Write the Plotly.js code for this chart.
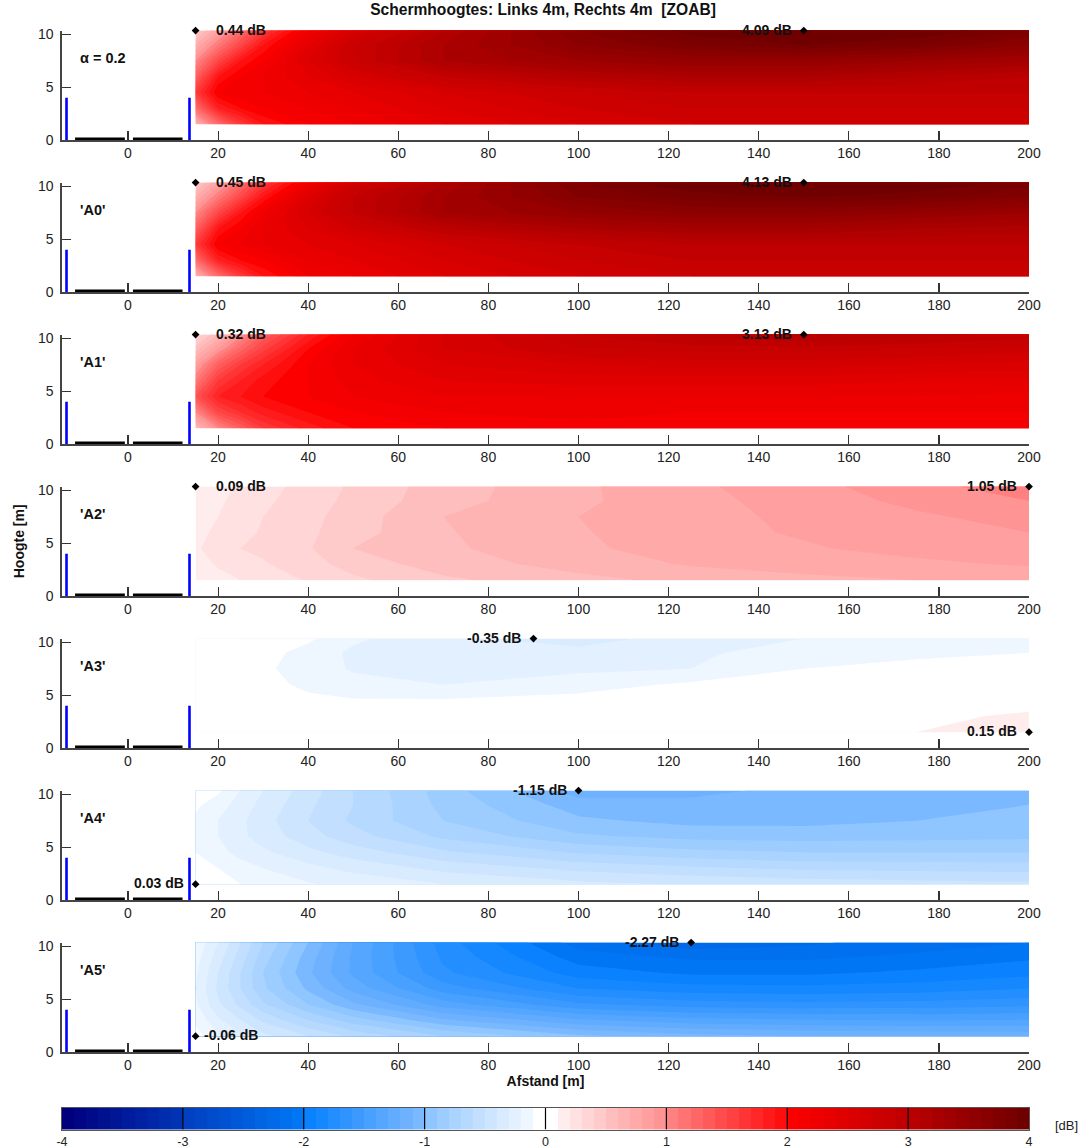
<!DOCTYPE html>
<html><head><meta charset="utf-8">
<script src="https://cdn.plot.ly/plotly-3.0.1.min.js"></script>
<style>html,body{margin:0;padding:0;background:#fff}#chart{width:1081px;height:1148px}</style>
</head><body><div id="chart"></div>
<script>
// ---------- DATA ----------
const xGrid = [15, 20, 25, 30, 40, 50, 70, 100, 125, 150, 175, 200];
const yGrid = [1.5, 3, 4.5, 6, 7.5, 9, 10.35];

// rows bottom -> top (y = 1.5 ... 10.35), columns follow xGrid
const zAlpha = [
  [0.70, 1.20, 1.60, 1.90, 2.10, 2.20, 2.40, 2.60, 2.70, 2.70, 2.70, 2.70],
  [1.20, 1.80, 2.00, 2.10, 2.20, 2.30, 2.50, 2.70, 2.80, 2.80, 2.80, 2.80],
  [1.60, 2.10, 2.20, 2.20, 2.30, 2.40, 2.60, 2.80, 2.90, 2.90, 2.90, 2.90],
  [1.30, 1.90, 2.10, 2.20, 2.40, 2.60, 2.90, 3.10, 3.20, 3.20, 3.10, 3.00],
  [1.00, 1.50, 1.90, 2.10, 2.50, 2.80, 3.20, 3.40, 3.50, 3.50, 3.40, 3.30],
  [0.70, 1.10, 1.50, 1.90, 2.40, 2.80, 3.20, 3.60, 3.80, 3.90, 3.80, 3.60],
  [0.44, 0.80, 1.20, 1.60, 2.20, 2.60, 3.10, 3.70, 3.95, 4.09, 4.00, 3.80]
];
const zA0 = [
  [0.70, 1.20, 1.60, 1.90, 2.20, 2.30, 2.50, 2.70, 2.80, 2.80, 2.80, 2.85],
  [1.20, 1.80, 2.00, 2.10, 2.30, 2.40, 2.60, 2.80, 2.90, 2.90, 2.90, 2.90],
  [1.60, 2.10, 2.20, 2.30, 2.40, 2.50, 2.70, 2.90, 3.00, 3.00, 3.00, 3.00],
  [1.30, 1.90, 2.10, 2.30, 2.50, 2.70, 3.00, 3.20, 3.30, 3.30, 3.20, 3.15],
  [1.00, 1.50, 1.90, 2.20, 2.60, 2.90, 3.30, 3.50, 3.60, 3.60, 3.50, 3.40],
  [0.70, 1.10, 1.50, 1.90, 2.50, 2.90, 3.30, 3.70, 3.85, 3.90, 3.85, 3.70],
  [0.45, 0.80, 1.20, 1.60, 2.20, 2.70, 3.20, 3.80, 4.00, 4.13, 4.00, 3.85]
];
const zA1 = [
  [0.60, 1.00, 1.30, 1.60, 1.85, 2.00, 2.10, 2.15, 2.15, 2.15, 2.15, 2.10],
  [1.00, 1.50, 1.70, 1.85, 2.00, 2.10, 2.20, 2.25, 2.20, 2.20, 2.20, 2.20],
  [1.40, 1.80, 1.90, 2.00, 2.10, 2.20, 2.30, 2.30, 2.30, 2.30, 2.30, 2.25],
  [1.10, 1.60, 1.80, 1.95, 2.10, 2.25, 2.40, 2.45, 2.45, 2.45, 2.40, 2.40],
  [0.85, 1.30, 1.60, 1.80, 2.10, 2.30, 2.50, 2.60, 2.65, 2.65, 2.60, 2.55],
  [0.55, 0.90, 1.25, 1.55, 2.00, 2.30, 2.60, 2.80, 2.85, 2.85, 2.80, 2.75],
  [0.32, 0.60, 0.95, 1.30, 1.80, 2.20, 2.60, 2.90, 3.05, 3.13, 3.05, 2.95]
];
const zA2 = [
  [0.13, 0.17, 0.20, 0.24, 0.31, 0.38, 0.48, 0.57, 0.63, 0.67, 0.70, 0.72],
  [0.16, 0.21, 0.25, 0.29, 0.36, 0.44, 0.55, 0.64, 0.71, 0.75, 0.78, 0.81],
  [0.18, 0.26, 0.30, 0.32, 0.39, 0.50, 0.58, 0.68, 0.75, 0.79, 0.83, 0.86],
  [0.17, 0.22, 0.27, 0.31, 0.38, 0.46, 0.59, 0.69, 0.77, 0.81, 0.86, 0.90],
  [0.15, 0.20, 0.25, 0.30, 0.37, 0.45, 0.60, 0.70, 0.77, 0.82, 0.88, 0.95],
  [0.12, 0.18, 0.24, 0.28, 0.35, 0.43, 0.56, 0.68, 0.77, 0.84, 0.93, 1.00],
  [0.09, 0.15, 0.22, 0.27, 0.33, 0.42, 0.55, 0.68, 0.78, 0.86, 0.97, 1.05]
];
const zA3 = [
  [0.04, 0.03, 0.02, 0.00, -0.01, -0.01, 0.00, 0.02, 0.05, 0.08, 0.10, 0.15],
  [0.03, 0.02, 0.00, -0.02, -0.04, -0.04, -0.03, -0.01, 0.02, 0.04, 0.07, 0.12],
  [0.02, 0.00, -0.02, -0.05, -0.08, -0.09, -0.09, -0.06, -0.03, 0.00, 0.02, 0.05],
  [0.02, -0.01, -0.03, -0.07, -0.12, -0.17, -0.20, -0.15, -0.08, -0.05, -0.02, 0.00],
  [0.02, -0.01, -0.04, -0.08, -0.15, -0.21, -0.24, -0.22, -0.20, -0.10, -0.07, -0.05],
  [0.03, 0.00, -0.02, -0.06, -0.14, -0.22, -0.26, -0.27, -0.22, -0.15, -0.12, -0.10],
  [0.05, 0.03, 0.00, -0.03, -0.08, -0.18, -0.28, -0.34, -0.26, -0.20, -0.17, -0.15]
];
const zA4 = [
  [0.03, -0.05, -0.10, -0.14, -0.19, -0.23, -0.30, -0.37, -0.41, -0.44, -0.46, -0.47],
  [-0.03, -0.10, -0.16, -0.20, -0.27, -0.33, -0.43, -0.53, -0.58, -0.62, -0.63, -0.64],
  [-0.10, -0.17, -0.23, -0.28, -0.37, -0.45, -0.58, -0.71, -0.77, -0.80, -0.80, -0.80],
  [-0.13, -0.20, -0.28, -0.34, -0.46, -0.56, -0.72, -0.88, -0.93, -0.94, -0.93, -0.92],
  [-0.12, -0.20, -0.28, -0.36, -0.50, -0.62, -0.80, -0.98, -1.03, -1.03, -1.00, -0.98],
  [-0.08, -0.15, -0.25, -0.33, -0.48, -0.60, -0.83, -1.05, -1.08, -1.06, -1.03, -1.00],
  [-0.02, -0.08, -0.20, -0.30, -0.45, -0.60, -0.85, -1.15, -1.12, -1.08, -1.05, -1.00]
];
const zA5 = [
  [-0.06, -0.18, -0.28, -0.37, -0.50, -0.62, -0.80, -0.98, -1.06, -1.10, -1.12, -1.13],
  [-0.12, -0.28, -0.40, -0.52, -0.70, -0.85, -1.08, -1.28, -1.36, -1.39, -1.40, -1.39],
  [-0.18, -0.38, -0.53, -0.68, -0.90, -1.08, -1.35, -1.58, -1.65, -1.67, -1.66, -1.63],
  [-0.20, -0.42, -0.60, -0.78, -1.02, -1.24, -1.55, -1.80, -1.86, -1.87, -1.85, -1.80],
  [-0.18, -0.40, -0.60, -0.80, -1.08, -1.32, -1.68, -1.95, -2.02, -2.02, -1.98, -1.93],
  [-0.15, -0.35, -0.55, -0.75, -1.05, -1.32, -1.72, -2.05, -2.12, -2.12, -2.08, -2.02],
  [-0.12, -0.30, -0.50, -0.70, -1.00, -1.30, -1.75, -2.15, -2.27, -2.22, -2.15, -2.10]
];
const panelZ = [zAlpha, zA0, zA1, zA2, zA3, zA4, zA5];
const panelNames = ['\u03b1 = 0.2', "'A0'", "'A1'", "'A2'", "'A3'", "'A4'", "'A5'"];

// extreme-value labels
const labelPanel = [0, 0, 1, 1, 2, 2, 3, 3, 4, 4, 5, 5, 6, 6];
const labelX = [15, 150, 15, 150, 15, 150, 15, 200, 90, 200, 100, 15, 125, 15];
const labelY = [10.35, 10.35, 10.35, 10.35, 10.35, 10.35, 10.35, 10.35, 10.35, 1.5, 10.35, 1.5, 10.35, 1.5];
const labelVal = [0.44, 4.09, 0.45, 4.13, 0.32, 3.13, 0.09, 1.05, -0.35, 0.15, -1.15, 0.03, -2.27, -0.06];
const labelSide = ['right', 'left', 'right', 'left', 'right', 'left', 'right', 'left', 'left', 'left', 'left', 'left', 'left', 'right'];

// geometry of the cross-section (screens and road lanes)
const screenX = [-13.65, 13.65];
const screenH = 4;
const laneStart = [-11.75, 1.1];
const laneEnd = [-0.7, 12.1];
const laneY = 0.12;

// colour scale anchors (band mid-value in dB -> rgb)
const cAnchorV = [-3.95, -3.05, -2.95, -2.05, -1.95, -1.05, -0.95, -0.55, -0.15, -0.05,
                  0.05, 0.15, 0.55, 0.95, 1.05, 1.95, 2.05, 2.95, 3.05, 3.95];
const cAnchorRGB = [
  [0, 0, 125], [0, 50, 180], [0, 64, 193], [0, 118, 244], [10, 130, 255], [122, 184, 255],
  [144, 198, 255], [195, 223, 255], [238, 246, 255], [255, 255, 255],
  [255, 255, 255], [255, 236, 236], [255, 190, 190], [255, 148, 148], [255, 128, 128], [255, 14, 14],
  [252, 0, 0], [192, 0, 0], [184, 0, 0], [112, 0, 0]
];
const cbTicks = [-4, -3, -2, -1, 0, 1, 2, 3, 4];
const xTicks = [0, 20, 40, 60, 80, 100, 120, 140, 160, 180, 200];
const yTicks = [0, 5, 10];

// ---------- BUILD ----------
const W = 1081, H = 1148;
const FONT = 'Liberation Sans, Arial, sans-serif';
function colorAt(v) {
  let i = 0;
  while (i < cAnchorV.length - 2 && v > cAnchorV[i + 1]) i++;
  const t = Math.max(0, Math.min(1, (v - cAnchorV[i]) / (cAnchorV[i + 1] - cAnchorV[i])));
  const a = cAnchorRGB[i], b = cAnchorRGB[i + 1];
  return 'rgb(' + a.map((c, k) => Math.round(c + (b[k] - c) * t)).join(',') + ')';
}
const NB = 80;
const bandMids = [];
for (let i = 0; i < NB; i++) bandMids.push(Math.round((-3.95 + 0.1 * i) * 100) / 100);
const bandColors = bandMids.map(colorAt);
// step colour scale: band i occupies s in [(i+0.5)/80, (i+1.5)/80]; background below is white
function stepScale(colors) {
  const eps = 1e-7;
  const cs = [[0, 'rgb(255,255,255)'], [0.5 / NB - eps, 'rgb(255,255,255)']];
  for (let i = 0; i < NB; i++) {
    cs.push([(i + 0.5) / NB, colors[i]]);
    cs.push([i === NB - 1 ? 1 : (i + 1.5) / NB - eps, colors[i]]);
  }
  return cs;
}
const cscale = stepScale(bandColors);

const xDom = [62 / W, 1029 / W];
const xRange = [-14.65, 200];
const yRange = [0, 10.35];
const traces = [];
const layout = {
  width: W, height: H, margin: {l: 0, r: 0, t: 0, b: 0},
  paper_bgcolor: '#fff', plot_bgcolor: 'rgba(0,0,0,0)',
  showlegend: false,
  font: {family: FONT, size: 14, color: '#222'},
  title: {text: '<b>Schermhoogtes: Links 4m, Rechts 4m\u00a0 [ZOAB]</b>', x: 543 / W, xanchor: 'center',
          y: 1 - 10 / H, yanchor: 'middle', font: {family: FONT, size: 15.6, color: '#111'}},
  annotations: [], shapes: []
};

for (let p = 0; p < 7; p++) {
  const n = p + 1;
  const xa = 'x' + n, ya = 'y' + n;
  const bottom = 140 + 152 * p, top = bottom - 109.4;
  // bands lying wholly below this panel's minimum are never visible: keep them white
  const zmin = Math.min(...panelZ[p].flat());
  const floorLevel = Math.floor(zmin * 10 + 1e-9) / 10;
  const pColors = bandColors.map((c, i) => bandMids[i] < floorLevel ? 'rgb(255,255,255)' : c);
  traces.push({
    type: 'contour', x: xGrid, y: yGrid, z: panelZ[p], xaxis: xa, yaxis: ya,
    zmin: -4, zmax: 4, autocontour: false,
    contours: {start: -4, end: 4, size: 0.1, coloring: 'fill', showlines: false},
    line: {width: 0, smoothing: 0}, colorscale: stepScale(pColors), showscale: false, hoverinfo: 'skip'
  });
  traces.push({
    type: 'scatter', mode: 'lines', xaxis: xa, yaxis: ya, cliponaxis: false, hoverinfo: 'skip',
    x: [screenX[0], screenX[0], null, screenX[1], screenX[1]],
    y: [0, screenH, null, 0, screenH],
    line: {color: '#0000ff', width: 2.6}
  });
  traces.push({
    type: 'scatter', mode: 'lines', xaxis: xa, yaxis: ya, cliponaxis: false, hoverinfo: 'skip',
    x: [laneStart[0], laneEnd[0], null, laneStart[1], laneEnd[1]],
    y: [laneY, laneY, null, laneY, laneY],
    line: {color: '#000', width: 2.4}
  });
  const axCommon = {
    showgrid: false, zeroline: false, showline: true, linecolor: '#444', linewidth: 1.6,
    ticks: 'inside', ticklen: 9, tickwidth: 1.2, tickcolor: '#333',
    tickfont: {family: FONT, size: 14, color: '#222'}, fixedrange: true
  };
  layout['xaxis' + (n === 1 ? '' : n)] = Object.assign({}, axCommon, {
    domain: xDom, range: xRange, anchor: ya, tickvals: xTicks, ticklabelstandoff: 0
  });
  layout['yaxis' + (n === 1 ? '' : n)] = Object.assign({}, axCommon, {
    domain: [1 - bottom / H, 1 - top / H], range: yRange, anchor: xa, tickvals: yTicks, ticklabelstandoff: 4
  });
  layout.annotations.push({
    xref: xa, yref: ya, x: -11.2, y: 7.8, xanchor: 'left', yanchor: 'middle', showarrow: false,
    text: '<b>' + panelNames[p] + '</b>', font: {family: FONT, size: 14.5, color: '#111'}
  });
}
layout.xaxis7.title = {text: '<b>Afstand [m]</b>', standoff: 3, font: {family: FONT, size: 14, color: '#111'}};
layout.yaxis4.title = {text: '<b>Hoogte [m]</b>', standoff: 10, font: {family: FONT, size: 14, color: '#111'}};

for (let p = 0; p < 7; p++) {
  const idx = labelPanel.map((q, i) => q === p ? i : -1).filter(i => i >= 0);
  traces.push({
    type: 'scatter', mode: 'markers', xaxis: 'x' + (p + 1), yaxis: 'y' + (p + 1), cliponaxis: false,
    hoverinfo: 'skip', x: idx.map(i => labelX[i]), y: idx.map(i => labelY[i]),
    marker: {symbol: 'diamond', size: 6, color: '#000'}
  });
  idx.forEach(i => {
    const v = labelVal[i];
    const right = labelSide[i] === 'right';
    layout.annotations.push({
      xref: 'x' + (p + 1), yref: 'y' + (p + 1), x: labelX[i], y: labelY[i],
      xanchor: right ? 'left' : 'right', yanchor: 'middle', showarrow: false,
      xshift: right ? (v >= 0 ? 18 : 6) : -10, yshift: 1,
      text: '<b>' + v.toFixed(2) + ' dB</b>', font: {family: FONT, size: 14, color: '#111'}
    });
  });
}

// colour bar as its own subplot
traces.push({
  type: 'heatmap', xaxis: 'x8', yaxis: 'y8', x: bandMids, y: [0.5], z: [bandMids],
  zmin: -4.05, zmax: 3.95, colorscale: cscale, showscale: false, hoverinfo: 'skip'
});
const sepX = [], sepY = [];
cbTicks.slice(1, -1).forEach(t => { sepX.push(t, t, null); sepY.push(0, 1, null); });
traces.push({
  type: 'scatter', mode: 'lines', xaxis: 'x8', yaxis: 'y8', x: sepX, y: sepY,
  line: {color: '#000', width: 1.2}, hoverinfo: 'skip'
});
layout.xaxis8 = {
  domain: xDom, range: [-4, 4], anchor: 'y8', showgrid: false, zeroline: false,
  showline: true, mirror: true, linecolor: '#555', linewidth: 1.2, ticks: '',
  tickvals: cbTicks, ticktext: cbTicks.map(String), ticklabelstandoff: 0,
  tickfont: {family: FONT, size: 12.5, color: '#222'}, fixedrange: true
};
layout.yaxis8 = {
  domain: [1 - 1129.5 / H, 1 - 1108 / H], range: [0, 1], anchor: 'x8', showgrid: false,
  zeroline: false, showline: true, mirror: true, linecolor: '#555', linewidth: 1.2,
  showticklabels: false, ticks: '', fixedrange: true
};
layout.annotations.push({
  xref: 'paper', yref: 'paper', x: 1066 / W, y: 1 - 1125 / H, xanchor: 'center', yanchor: 'middle',
  showarrow: false, text: '[dB]', font: {family: FONT, size: 13, color: '#222'}
});

Plotly.newPlot('chart', traces, layout, {staticPlot: true, displayModeBar: false});
</script>
</body></html>
